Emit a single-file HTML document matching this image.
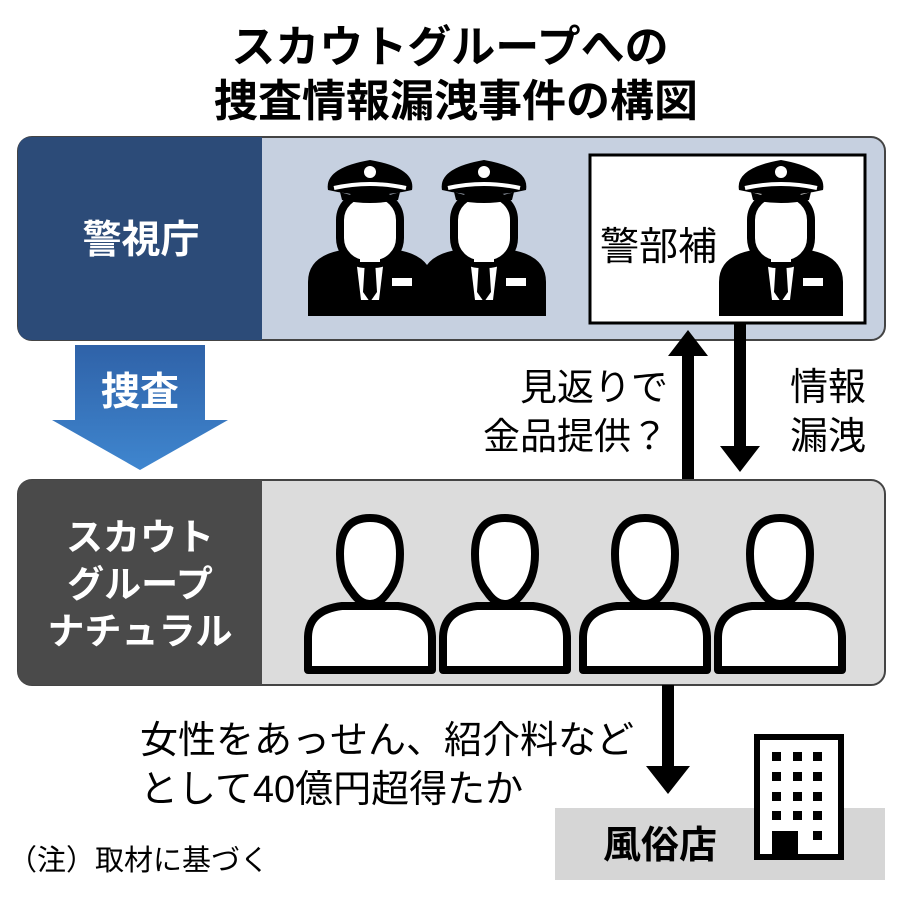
<!DOCTYPE html>
<html><head><meta charset="utf-8"><style>
html,body{margin:0;padding:0;background:#fff;}
svg{display:block;}
text{font-family:"Liberation Sans","Noto Sans CJK JP",sans-serif;}
</style></head><body>
<svg width="900" height="900" viewBox="0 0 900 900" xmlns="http://www.w3.org/2000/svg">
<defs>
<symbol id="cop" overflow="visible">
  <path d="M-62,156 L-62,122 Q-62,96 -28,90 L28,90 Q62,96 62,122 L62,156 Z" fill="#000"/>
  <polygon points="-15,90 15,90 9,140 -9,140" fill="#fff"/>
  <polygon points="-5,100 5,100 7,132 0,142 -7,132" fill="#000"/>
  <rect x="22" y="118" width="20" height="8" fill="#fff"/>
  <rect x="-30" y="34" width="60" height="70" rx="26" fill="#fff" stroke="#000" stroke-width="8"/>
  <rect x="-10" y="96" width="20" height="6" fill="#fff"/>
  <path d="M-42,30 Q-46,8 0,0 Q46,8 42,30 Q0,40 -42,30 Z" fill="#000"/>
  <path d="M-36,28 Q0,20 36,28" fill="none" stroke="#fff" stroke-width="4"/>
  <path d="M-30,32 Q0,42 30,32 L28,40 Q0,46 -28,40 Z" fill="#000"/>
  <circle cx="0" cy="12" r="6" fill="#fff"/>
</symbol>
<symbol id="man" overflow="visible">
  <path d="M-62,156 L-62,124 Q-62,96 -28,92 L28,92 Q62,96 62,124 L62,156 Z" fill="#fff" stroke="#000" stroke-width="8" stroke-linejoin="round"/>
  <path d="M-30,40 Q-30,4 0,4 Q30,4 30,40 Q30,64 18,78 Q10,90 0,90 Q-10,90 -18,78 Q-30,64 -30,40 Z" fill="#fff" stroke="#000" stroke-width="8"/>
</symbol>
</defs>

<text x="450" y="62" font-size="44" font-weight="bold" text-anchor="middle">スカウトグループへの</text>
<text x="456" y="116" font-size="44" font-weight="bold" text-anchor="middle">捜査情報漏洩事件の構図</text>

<rect x="18" y="137" width="867" height="203" rx="14" fill="#c6d0e0" stroke="#444" stroke-width="2"/>
<path d="M32,137 L262,137 L262,340 L32,340 Q18,340 18,326 L18,151 Q18,137 32,137 Z" fill="#2c4b78"/>
<text x="141" y="253" font-size="39" font-weight="bold" fill="#fff" text-anchor="middle">警視庁</text>
<use href="#cop" x="370" y="160"/>
<use href="#cop" x="484" y="160"/>
<rect x="590" y="155" width="275" height="168" fill="#fff" stroke="#000" stroke-width="3"/>
<text x="600" y="260" font-size="39">警部補</text>
<use href="#cop" x="781" y="160"/>

<defs><linearGradient id="bg" x1="0" y1="0" x2="0" y2="1"><stop offset="0" stop-color="#2f62a8"/><stop offset="1" stop-color="#3f86cf"/></linearGradient></defs>
<polygon points="75,345 205,345 205,420 228,420 140,470 52,420 75,420" fill="url(#bg)"/>
<text x="140" y="405" font-size="39" font-weight="bold" fill="#fff" text-anchor="middle">捜査</text>

<rect x="682" y="352" width="12" height="130" fill="#000"/>
<polygon points="668,356 688,330 708,356" fill="#000"/>
<rect x="734" y="323" width="12" height="128" fill="#000"/>
<polygon points="720,446 740,472 760,446" fill="#000"/>
<text x="668" y="400" font-size="37" text-anchor="end">見返りで</text>
<text x="668" y="449" font-size="37" text-anchor="end">金品提供？</text>
<text x="790" y="400" font-size="38">情報</text>
<text x="790" y="449" font-size="38">漏洩</text>

<rect x="18" y="480" width="867" height="205" rx="14" fill="#dcdcdc" stroke="#444" stroke-width="2"/>
<path d="M32,480 L262,480 L262,685 L32,685 Q18,685 18,671 L18,494 Q18,480 32,480 Z" fill="#4a4a4a"/>
<text x="140" y="550" font-size="37" font-weight="bold" fill="#fff" text-anchor="middle">スカウト</text>
<text x="140" y="597" font-size="37" font-weight="bold" fill="#fff" text-anchor="middle">グループ</text>
<text x="140" y="644" font-size="37" font-weight="bold" fill="#fff" text-anchor="middle">ナチュラル</text>
<use href="#man" x="370" y="514"/>
<use href="#man" x="505" y="514"/>
<use href="#man" x="645" y="514"/>
<use href="#man" x="780" y="514"/>

<rect x="662" y="685" width="12" height="85" fill="#000"/>
<polygon points="646,766 668,794 690,766" fill="#000"/>
<text x="140" y="753" font-size="38">女性をあっせん、紹介料など</text>
<text x="140" y="802" font-size="38">として40億円超得たか</text>

<rect x="555" y="808" width="330" height="72" fill="#d6d6d6"/>
<text x="603" y="858" font-size="38" font-weight="bold">風俗店</text>
<rect x="757" y="737" width="84" height="120" fill="#fff" stroke="#000" stroke-width="6"/>
<g fill="#000">
<rect x="772" y="752" width="9" height="9"/><rect x="793" y="752" width="9" height="9"/><rect x="813" y="752" width="9" height="9"/>
<rect x="772" y="772" width="9" height="9"/><rect x="793" y="772" width="9" height="9"/><rect x="813" y="772" width="9" height="9"/>
<rect x="772" y="792" width="9" height="9"/><rect x="793" y="792" width="9" height="9"/><rect x="813" y="792" width="9" height="9"/>
<rect x="772" y="811" width="9" height="9"/><rect x="793" y="811" width="9" height="9"/><rect x="813" y="811" width="9" height="9"/>
<rect x="813" y="831" width="9" height="9"/>
<rect x="772" y="831" width="26" height="26"/>
</g>
<text x="8" y="870" font-size="29">（注）取材に基づく</text>
</svg>
</body></html>
